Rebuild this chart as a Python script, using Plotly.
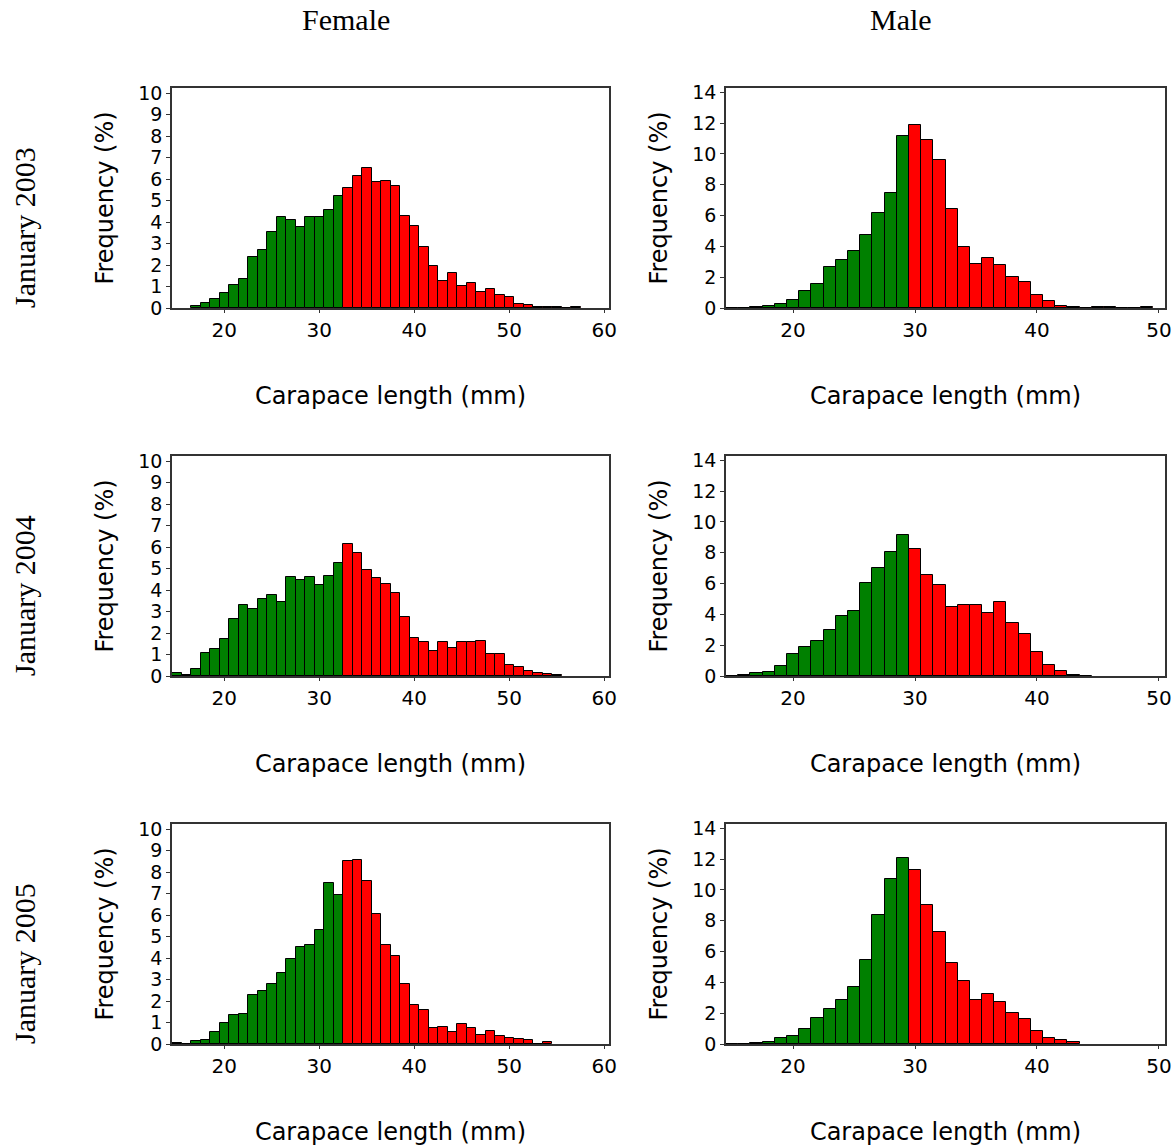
import plotly.graph_objects as go

# ---------------- data ----------------
female_bins_2003 = list(range(17, 58))
female_2003 = [0.11, 0.23, 0.43, 0.71, 1.07, 1.35, 2.39, 2.70, 3.52, 4.22, 4.08, 3.78, 4.26, 4.26,
               4.56, 5.21, 5.61, 6.16, 6.53, 5.88, 5.91, 5.69, 4.29, 3.83, 2.85, 1.98, 1.27, 1.61,
               1.01, 1.18, 0.76, 0.88, 0.59, 0.51, 0.20, 0.16, 0.03, 0.03, 0.03, 0.0, 0.03]

female_bins_2004 = list(range(15, 56))
female_2004 = [0.12, 0.06, 0.31, 1.05, 1.27, 1.71, 2.64, 3.29, 3.10, 3.61, 3.77, 3.43, 4.62, 4.45,
               4.62, 4.22, 4.65, 5.27, 6.16, 5.74, 4.96, 4.56, 4.28, 3.89, 2.74, 1.75, 1.57, 1.16,
               1.57, 1.29, 1.60, 1.60, 1.64, 1.02, 1.02, 0.50, 0.43, 0.23, 0.12, 0.08, 0.03]

female_bins_2005 = list(range(15, 55))
female_2005 = [0.03, 0.0, 0.12, 0.17, 0.54, 0.98, 1.33, 1.38, 2.26, 2.45, 2.79, 3.33, 3.94, 4.51,
               4.59, 5.33, 7.52, 6.93, 8.51, 8.56, 7.61, 6.08, 4.60, 4.12, 2.78, 1.81, 1.60, 0.76,
               0.78, 0.57, 0.95, 0.73, 0.43, 0.59, 0.39, 0.26, 0.23, 0.17, 0.0, 0.09]

male_bins_2003 = list(range(15, 50))
male_2003 = [0.02, 0.02, 0.07, 0.15, 0.28, 0.54, 1.11, 1.58, 2.63, 3.13, 3.73, 4.71, 6.14, 7.45,
             11.14, 11.89, 10.92, 9.62, 6.40, 3.97, 2.87, 3.26, 2.78, 2.04, 1.71, 0.87, 0.48, 0.15,
             0.04, 0.0, 0.04, 0.04, 0.0, 0.0, 0.04]

male_bins_2004 = list(range(15, 45))
male_2004 = [0.0, 0.07, 0.17, 0.24, 0.63, 1.43, 1.89, 2.26, 2.99, 3.88, 4.23, 6.03, 7.01, 8.03,
             9.15, 8.26, 6.55, 5.90, 4.47, 4.60, 4.60, 4.08, 4.79, 3.45, 2.73, 1.56, 0.69, 0.33,
             0.04, 0.02]

male_bins_2005 = list(range(15, 44))
male_2005 = [0.0, 0.02, 0.04, 0.11, 0.37, 0.54, 0.95, 1.67, 2.26, 2.86, 3.73, 5.44, 8.39, 10.72,
             12.08, 11.32, 9.02, 7.29, 5.25, 4.06, 2.84, 3.23, 2.71, 2.00, 1.61, 0.85, 0.39, 0.24,
             0.11]

female_split = 32.5   # bins below are green, above red
male_split = 29.5

row_labels = ["January 2003", "January 2004", "January 2005"]
col_labels = ["Female", "Male"]
female_xticks = [20, 30, 40, 50, 60]
male_xticks = [20, 30, 40, 50]
female_yticks = list(range(0, 11))
male_yticks = list(range(0, 15, 2))

# ---------------- layout geometry ----------------
W, H = 1173, 1148
col_px = [(172, 609), (726, 1165)]
row_px = [(88, 308), (456, 676), (824, 1044)]

GREEN = "#008000"
RED = "#ff0000"
SANS = "DejaVu Sans"
SERIF = "Liberation Serif"

panels = [
    [(female_bins_2003, female_2003), (male_bins_2003, male_2003)],
    [(female_bins_2004, female_2004), (male_bins_2004, male_2004)],
    [(female_bins_2005, female_2005), (male_bins_2005, male_2005)],
]

fig = go.Figure()
layout = dict(
    width=W, height=H, margin=dict(l=0, r=0, t=0, b=0, autoexpand=False),
    paper_bgcolor="white", plot_bgcolor="white", showlegend=False,
    bargap=0, barmode="overlay",
)
annotations = []

idx = 0
for r in range(3):
    for c in range(2):
        idx += 1
        xa = "xaxis" if idx == 1 else f"xaxis{idx}"
        ya = "yaxis" if idx == 1 else f"yaxis{idx}"
        xref = "x" if idx == 1 else f"x{idx}"
        yref = "y" if idx == 1 else f"y{idx}"
        bins, vals = panels[r][c]
        split = female_split if c == 0 else male_split
        colors = [GREEN if b < split else RED for b in bins]
        fig.add_trace(go.Bar(
            x=bins, y=vals, width=1.0, xaxis=xref, yaxis=yref,
            marker=dict(color=colors, line=dict(color="black", width=1)),
            hoverinfo="x+y",
        ))
        x0, x1 = col_px[c]
        y0, y1 = row_px[r]
        xmax = 60.5 if c == 0 else 50.5
        ymax = 10.25 if c == 0 else 14.28
        layout[xa] = dict(
            domain=[x0 / W, x1 / W], range=[14.5, xmax], anchor=yref,
            automargin=False,
            tickvals=female_xticks if c == 0 else male_xticks,
            showgrid=False, zeroline=False, showline=True, mirror=True,
            linecolor="#333333", linewidth=1.5,
            ticks="outside", ticklen=3, tickcolor="#333333",
            tickfont=dict(family=SANS, size=20, color="black"),
            title=dict(text="Carapace length (mm)", standoff=46,
                       font=dict(family=SANS, size=24, color="black")),
        )
        layout[ya] = dict(
            domain=[1 - y1 / H, 1 - y0 / H], range=[0, ymax], anchor=xref,
            automargin=False,
            tickvals=female_yticks if c == 0 else male_yticks,
            showgrid=False, zeroline=False, showline=True, mirror=True,
            linecolor="#333333", linewidth=1.5,
            ticks="outside", ticklen=4, tickcolor="#333333",
            tickfont=dict(family=SANS, size=19, color="black"),
            title=dict(text="Frequency (%)", standoff=18,
                       font=dict(family=SANS, size=24, color="black")),
        )

# column titles
for c, lab in enumerate(col_labels):
    annotations.append(dict(text=lab, x=(346 if c == 0 else 901) / W, y=1 - 20 / H,
                            xref="paper", yref="paper", showarrow=False,
                            font=dict(family=SERIF, size=30, color="black"),
                            xanchor="center", yanchor="middle"))
# row titles
for r, lab in enumerate(row_labels):
    yc = [228, 596, 964][r]
    annotations.append(dict(text=lab, x=24 / W, y=1 - yc / H, textangle=-90,
                            xref="paper", yref="paper", showarrow=False,
                            font=dict(family=SERIF, size=30, color="black"),
                            xanchor="center", yanchor="middle"))

layout["annotations"] = annotations
fig.update_layout(**layout)
fig.write_html("out.html")
